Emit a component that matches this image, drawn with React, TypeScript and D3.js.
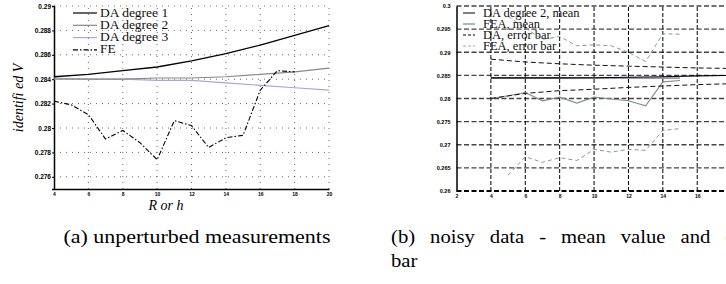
import { useEffect, useRef } from "react";
import * as d3 from "d3";

// left panel (a)
const daX = [4, 6, 8, 10, 12, 14, 16, 18, 20];
const daDeg1 = [0.2842, 0.2844, 0.2847, 0.285, 0.2855, 0.2861, 0.2868, 0.2876, 0.2884];
const daDeg2 = [0.284, 0.284, 0.284, 0.2841, 0.2841, 0.2842, 0.2844, 0.2846, 0.2849];
const daDeg3 = [0.2841, 0.284, 0.284, 0.2839, 0.2839, 0.2837, 0.2835, 0.2833, 0.2831];
const feX = [4, 5, 6, 7, 8, 9, 10, 11, 12, 13, 14, 15, 16, 17, 18];
const feVals = [0.2822, 0.2819, 0.2811, 0.2791, 0.2798, 0.2788, 0.2774, 0.2806, 0.2802, 0.2784, 0.2792, 0.2794, 0.2831, 0.2847, 0.2846];
const leftXTicks = [4, 6, 8, 10, 12, 14, 16, 18, 20];
const leftYTicks = [0.276, 0.278, 0.28, 0.282, 0.284, 0.286, 0.288, 0.29];

// right panel (b)
const meanX = [4, 6, 8, 10, 12, 14, 16, 18, 20];
const daMean = [0.28445, 0.28445, 0.28445, 0.2845, 0.2846, 0.2847, 0.2849, 0.285, 0.2851];
const daUpper = [0.2885, 0.2879, 0.2875, 0.2872, 0.287, 0.2868, 0.2866, 0.2865, 0.2864];
const daLower = [0.28, 0.2811, 0.2817, 0.282, 0.2824, 0.2827, 0.283, 0.2832, 0.2834];
const grayMeanX = [4, 6, 8, 10, 12, 14, 15];
const grayMean = [0.2844, 0.2844, 0.2844, 0.2844, 0.2844, 0.2844, 0.2844];
const feaMeanX = [4, 5, 6, 7, 8, 9, 10, 11, 12, 13, 14, 15];
const feaMean = [0.28, 0.2806, 0.2813, 0.2795, 0.2803, 0.279, 0.2803, 0.2799, 0.2795, 0.2784, 0.2836, 0.2839];
const feaBarX = [5, 6, 7, 8, 9, 10, 11, 12, 13, 14, 15];
const feaLower = [0.2634, 0.2674, 0.2662, 0.2672, 0.2666, 0.269, 0.2684, 0.269, 0.2688, 0.2731, 0.2735];
const feaUpper = [0.2978, 0.2952, 0.2928, 0.2934, 0.2914, 0.2916, 0.2914, 0.29, 0.288, 0.294, 0.2939];
const rightXTicks = [2, 4, 6, 8, 10, 12, 14, 16, 18, 20];
const rightXLabels = [2, 4, 6, 8, 10, 12, 14, 16];
const rightYTicks = [0.26, 0.265, 0.27, 0.275, 0.28, 0.285, 0.29, 0.295, 0.3];

const serif = "Liberation Serif, Times New Roman, serif";
const sans = "Liberation Sans, Arial, sans-serif";

export default function App() {
  const svgRef = useRef<SVGSVGElement>(null);

  useEffect(() => {
    const svg = d3.select(svgRef.current);
    svg.selectAll("*").remove();

    // ---------- panel (a) ----------
    const x = d3.scaleLinear().domain([4, 20]).range([54, 329]);
    const y = d3.scaleLinear().domain([0.275, 0.29]).range([189, 6]);
    const a = svg.append("g");

    // dotted grid
    a.selectAll(".hg").data(leftYTicks).enter().append("line")
      .attr("x1", x(4)).attr("x2", x(20))
      .attr("y1", (d) => y(d)).attr("y2", (d) => y(d))
      .attr("stroke", "#444").attr("stroke-width", 0.8).attr("stroke-dasharray", "1,5");
    a.selectAll(".vg").data(leftXTicks.slice(1)).enter().append("line")
      .attr("x1", (d) => x(d)).attr("x2", (d) => x(d))
      .attr("y1", y(0.275)).attr("y2", y(0.29))
      .attr("stroke", "#444").attr("stroke-width", 0.8).attr("stroke-dasharray", "1,5");

    const ax = a.append("g").attr("transform", `translate(0,${y(0.275)})`)
      .call(d3.axisBottom(x).tickValues(leftXTicks).tickSize(0).tickPadding(3).tickFormat(d3.format("d")));
    const ay = a.append("g").attr("transform", `translate(${x(4)},0)`)
      .call(d3.axisLeft(y).tickValues(leftYTicks).tickSize(2).tickPadding(1).tickFormat((d) => String(+(+d).toFixed(3))));
    [ax, ay].forEach((g) => {
      g.select(".domain").attr("stroke", "#000").attr("stroke-width", 1.5);
      g.selectAll("text").attr("font-family", sans).attr("font-weight", "bold").attr("fill", "#000");
    });
    ax.selectAll("text").attr("font-size", 5);
    ay.selectAll("text").attr("font-size", 6.5);

    const line = d3.line<number>().x((d, i) => x(daX[i])).y((d) => y(d));
    a.append("path").datum(daDeg3).attr("d", line).attr("fill", "none").attr("stroke", "#aaa6d8").attr("stroke-width", 1.2);
    a.append("path").datum(daDeg2).attr("d", line).attr("fill", "none").attr("stroke", "#888").attr("stroke-width", 1.2);
    a.append("path").datum(daDeg1).attr("d", line).attr("fill", "none").attr("stroke", "#000").attr("stroke-width", 1.3);
    const feLine = d3.line<number>().x((d, i) => x(feX[i])).y((d) => y(d));
    a.append("path").datum(feVals).attr("d", feLine).attr("fill", "none").attr("stroke", "#000")
      .attr("stroke-width", 1.1).attr("stroke-dasharray", "5,2,1.5,2");

    const legA = [
      { name: "DA degree 1", color: "#000", dash: "none" },
      { name: "DA degree 2", color: "#888", dash: "none" },
      { name: "DA degree 3", color: "#aaa6d8", dash: "none" },
      { name: "FE", color: "#000", dash: "5,2,1.5,2" },
    ];
    legA.forEach((d, i) => {
      const ly = 13 + i * 12.3;
      a.append("line").attr("x1", 73).attr("x2", 97).attr("y1", ly).attr("y2", ly)
        .attr("stroke", d.color).attr("stroke-width", 1.2).attr("stroke-dasharray", d.dash);
      a.append("text").attr("x", 100).attr("y", ly + 3.5).attr("font-family", serif).attr("font-size", 13.5)
        .attr("fill", "#111").text(d.name);
    });

    a.append("text").attr("transform", "translate(23,98) rotate(-90)").attr("text-anchor", "middle")
      .attr("font-family", serif).attr("font-style", "italic").attr("font-size", 14).text("identifi ed V");
    a.append("text").attr("x", 166).attr("y", 210).attr("text-anchor", "middle")
      .attr("font-family", serif).attr("font-style", "italic").attr("font-size", 14).text("R or h");

    // ---------- panel (b) ----------
    const x2 = d3.scaleLinear().domain([2, 20]).range([456.5, 766]);
    const y2 = d3.scaleLinear().domain([0.26, 0.3]).range([191, 6]);
    const b = svg.append("g");

    b.selectAll(".hg").data(rightYTicks).enter().append("line")
      .attr("x1", x2(2)).attr("x2", x2(20))
      .attr("y1", (d) => y2(d)).attr("y2", (d) => y2(d))
      .attr("stroke", (d) => (d === 0.26 ? "#000" : "#444"))
      .attr("stroke-width", (d) => (d === 0.26 ? 2 : 1.3)).attr("stroke-dasharray", "5,2.5");
    b.selectAll(".vg").data(rightXTicks.slice(1)).enter().append("line")
      .attr("x1", (d) => x2(d)).attr("x2", (d) => x2(d))
      .attr("y1", y2(0.26)).attr("y2", y2(0.3))
      .attr("stroke", "#000").attr("stroke-width", 1).attr("stroke-dasharray", "4,2");

    const bx = b.append("g").attr("transform", `translate(0,${y2(0.26)})`)
      .call(d3.axisBottom(x2).tickValues(rightXLabels).tickSize(0).tickPadding(3).tickFormat(d3.format("d")));
    bx.select(".domain").remove();
    const by = b.append("g").attr("transform", `translate(${x2(2)},0)`)
      .call(d3.axisLeft(y2).tickValues(rightYTicks).tickSize(0).tickPadding(6).tickFormat((d) => String(+(+d).toFixed(3))));
    by.select(".domain").attr("stroke", "#000").attr("stroke-width", 1.5);
    [bx, by].forEach((g) => {
      g.selectAll("text").attr("font-family", sans).attr("font-weight", "bold").attr("fill", "#000");
    });
    bx.selectAll("text").attr("font-size", 5);
    by.selectAll("text").attr("font-size", 5.5);

    const l2 = (xs: number[]) => d3.line<number>().x((d, i) => x2(xs[i])).y((d) => y2(d));
    b.append("path").datum(feaLower).attr("d", l2(feaBarX)).attr("fill", "none").attr("stroke", "#8a9a96")
      .attr("stroke-width", 1).attr("stroke-dasharray", "4,3");
    b.append("path").datum(feaUpper).attr("d", l2(feaBarX)).attr("fill", "none").attr("stroke", "#8a9a96")
      .attr("stroke-width", 1).attr("stroke-dasharray", "4,3");
    b.append("path").datum(feaMean).attr("d", l2(feaMeanX)).attr("fill", "none").attr("stroke", "#7f918c")
      .attr("stroke-width", 1.1);
    b.append("path").datum(daUpper).attr("d", l2(meanX)).attr("fill", "none").attr("stroke", "#111")
      .attr("stroke-width", 1).attr("stroke-dasharray", "5,3");
    b.append("path").datum(daLower).attr("d", l2(meanX)).attr("fill", "none").attr("stroke", "#111")
      .attr("stroke-width", 1).attr("stroke-dasharray", "5,3");
    b.append("path").datum(grayMean).attr("d", l2(grayMeanX)).attr("fill", "none").attr("stroke", "#9a9aa8")
      .attr("stroke-width", 1.6);
    b.append("path").datum(daMean).attr("d", l2(meanX)).attr("fill", "none").attr("stroke", "#000")
      .attr("stroke-width", 1.1);

    const legB = [
      { name: "DA degree 2, mean", color: "#000", dash: "none" },
      { name: "FEA, mean", color: "#9aa8a4", dash: "none" },
      { name: "DA, error bar", color: "#000", dash: "3,2" },
      { name: "FEA, error bar", color: "#9aa8a4", dash: "3,2" },
    ];
    legB.forEach((d, i) => {
      const ly = 13 + i * 11;
      b.append("line").attr("x1", 463).attr("x2", 475).attr("y1", ly).attr("y2", ly)
        .attr("stroke", d.color).attr("stroke-width", i === 1 ? 1.6 : 1).attr("stroke-dasharray", d.dash);
      b.append("text").attr("x", 483).attr("y", ly + 3.5).attr("font-family", serif).attr("font-size", 12.5)
        .attr("fill", "#111").text(d.name);
    });

    // captions (glyphs a little wide, as in the reference)
    svg.append("text").attr("x", 197).attr("y", 243).attr("text-anchor", "middle")
      .attr("font-family", serif).attr("font-size", 18)
      .attr("textLength", 267).attr("lengthAdjust", "spacingAndGlyphs")
      .text("(a) unperturbed measurements");
    const cb = svg.append("g").attr("transform", "translate(391,0) scale(1.15,1)")
      .attr("font-family", serif).attr("font-size", 18);
    cb.append("text").attr("x", 0).attr("y", 243).attr("word-spacing", 8.5)
      .text("(b) noisy data - mean value and error");
    cb.append("text").attr("x", 0).attr("y", 267).text("bar");
  }, []);

  return (
    <svg ref={svgRef} width={726} height={284}
      style={{ position: "absolute", left: 0, top: 0, background: "#fff" }} />
  );
}
